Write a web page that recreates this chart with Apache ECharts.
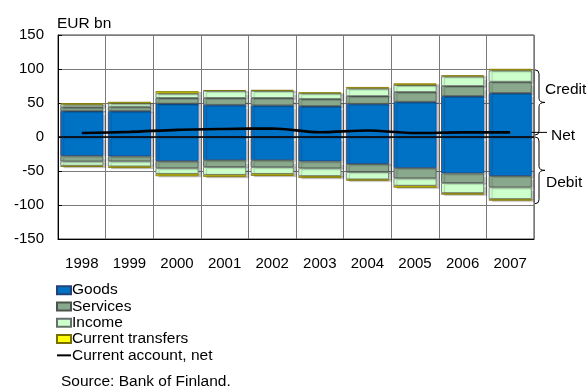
<!DOCTYPE html>
<html>
<head>
<meta charset="utf-8">
<script src="https://cdn.jsdelivr.net/npm/echarts@6/dist/echarts.min.js"></script>
<style>
  html, body { margin: 0; padding: 0; background: #fff; }
  #chart { width: 587px; height: 390px; }
</style>
</head>
<body>
<div id="chart"></div>
<script>
// Finland's current account, EUR bn
const years = ['1998', '1999', '2000', '2001', '2002', '2003', '2004', '2005', '2006', '2007'];

// Credit side (positive)
const goodsCredit     = [38.2, 38.2, 49.0, 47.3, 46.5, 45.5, 48.8, 51.8, 60.2, 64.7];
const servicesCredit  = [5.6, 6.3, 8.5, 10.2, 11.0, 10.6, 11.4, 14.4, 14.8, 16.6];
const incomeCredit    = [3.9, 5.0, 6.5, 10.3, 10.3, 8.1, 11.1, 10.1, 14.0, 16.5];
const transfersCredit = [2.0, 2.2, 3.4, 1.2, 1.5, 1.4, 2.2, 2.6, 1.8, 2.4];

// Debit side (negative)
const goodsDebit     = [-27.7, -28.5, -35.5, -34.1, -34.1, -35.8, -39.8, -45.6, -53.5, -57.4];
const servicesDebit  = [-8.3, -7.3, -10.4, -10.0, -10.3, -10.3, -11.7, -15.2, -14.1, -16.7];
const incomeDebit    = [-6.2, -7.4, -8.3, -11.5, -9.8, -11.3, -10.8, -10.8, -14.8, -17.1];
const transfersDebit = [-1.8, -2.4, -3.4, -3.2, -3.0, -2.9, -2.0, -3.0, -2.5, -2.5];

// Current account, net
const netBalance = [5.9, 7.5, 10.5, 11.8, 12.5, 7.0, 9.5, 5.9, 6.8, 6.8];

const yTicks = { min: -150, max: 150, interval: 50 };

const FONT = '"Liberation Sans", Arial, sans-serif';

const styles = {
  Goods:               { color: '#0072C6', borderColor: '#24427a' },
  Services:            { color: '#8AA88C', borderColor: '#4a554b' },
  Income:              { color: '#CCFFCC', borderColor: '#66706a' },
  'Current transfers': { color: '#FFFF00', borderColor: '#7a7000' }
};

function barSeries(name, data) {
  const s = styles[name];
  return {
    name: name,
    type: 'bar',
    stack: 'ca',
    barWidth: 43,
    data: data,
    itemStyle: {
      color: s.color,
      borderColor: s.borderColor,
      borderWidth: 0.8,
      shadowColor: 'rgba(0,0,0,0.22)',
      shadowOffsetX: 3,
      shadowOffsetY: 1,
      shadowBlur: 1
    },
    emphasis: { disabled: true }
  };
}

const chart = echarts.init(document.getElementById('chart'), null, { renderer: 'canvas' });

const option = {
  animation: false,
  backgroundColor: '#fff',
  textStyle: { fontFamily: FONT, color: '#000' },
  grid: {
    left: 58, right: 53, top: 35, bottom: 151,
    show: true, borderColor: '#404040', borderWidth: 1
  },
  legend: {
    orient: 'vertical',
    left: 56,
    top: 282,
    padding: 0,
    itemGap: 0,
    itemWidth: 14,
    itemHeight: 8,
    selectedMode: false,
    textStyle: { fontFamily: FONT, fontSize: 15.5, color: '#000', lineHeight: 16.3, padding: [0, 0, 0, -4] },
    data: [
      { name: 'Goods', icon: 'rect' },
      { name: 'Services', icon: 'rect' },
      { name: 'Income', icon: 'rect' },
      { name: 'Current transfers', icon: 'rect' },
      { name: 'Current account, net', icon: 'path://M0,0 L14,0 L14,2 L0,2 Z', itemStyle: { color: '#000', borderWidth: 0 } }
    ]
  },
  xAxis: {
    type: 'category',
    data: years,
    boundaryGap: true,
    axisLine: { onZero: false, lineStyle: { color: '#000', width: 1 } },
    axisTick: { show: false },
    splitLine: { show: true, lineStyle: { color: '#7a7a7a', width: 1 } },
    axisLabel: { fontFamily: FONT, fontSize: 15, color: '#000', margin: 17, interval: 0 }
  },
  yAxis: {
    type: 'value',
    min: yTicks.min,
    max: yTicks.max,
    interval: yTicks.interval,
    axisLine: { show: true, lineStyle: { color: '#000', width: 1 } },
    axisTick: { show: true, inside: true, length: 4, lineStyle: { color: '#000' } },
    splitLine: { show: true, lineStyle: { color: '#7a7a7a', width: 1 } },
    axisLabel: { fontFamily: FONT, fontSize: 15, color: '#000', margin: 14 }
  },
  series: [
    barSeries('Goods', goodsCredit),
    barSeries('Goods', goodsDebit),
    barSeries('Services', servicesCredit),
    barSeries('Services', servicesDebit),
    barSeries('Income', incomeCredit),
    barSeries('Income', incomeDebit),
    barSeries('Current transfers', transfersCredit),
    barSeries('Current transfers', transfersDebit),
    {
      name: 'Current account, net',
      type: 'line',
      data: netBalance,
      symbol: 'none',
      smooth: 0.3,
      z: 5,
      lineStyle: { color: '#000', width: 2.6 },
      itemStyle: { color: '#000' },
      markLine: {
        silent: true,
        symbol: 'none',
        label: { show: false },
        lineStyle: { color: '#000', width: 1.5, type: 'solid' },
        data: [{ yAxis: 0 }]
      }
    }
  ]
};

chart.setOption(option);

// Side annotations: braces for credit / debit and the arrow labelled "Net"
const last = years.length - 1;
const sum = (arrs, i) => arrs.reduce((a, arr) => a + arr[i], 0);
const creditTop = sum([goodsCredit, servicesCredit, incomeCredit, transfersCredit], last);
const debitBottom = sum([goodsDebit, servicesDebit, incomeDebit, transfersDebit], last);

const yCredit = chart.convertToPixel({ yAxisIndex: 0 }, creditTop);
const yZero = chart.convertToPixel({ yAxisIndex: 0 }, 0);
const yDebit = chart.convertToPixel({ yAxisIndex: 0 }, debitBottom);
const netEnd = chart.convertToPixel({ xAxisIndex: 0, yAxisIndex: 0 }, [last, netBalance[last]]);

const stroke = { stroke: '#000', lineWidth: 1, fill: 'none' };

// A curly brace "}" built from straight and quadratic pieces
function brace(y0, y1) {
  const xe = 535, xm = 539, xt = 545, r = 4;
  const ym = (y0 + y1) / 2;
  const curve = (x1, y1_, cx, cy, x2, y2) => ({
    type: 'bezierCurve',
    shape: { x1: x1, y1: y1_, cpx1: cx, cpy1: cy, x2: x2, y2: y2 },
    style: stroke
  });
  const seg = (x1, y1_, x2, y2) => ({
    type: 'line',
    shape: { x1: x1, y1: y1_, x2: x2, y2: y2 },
    style: stroke
  });
  return [
    curve(xe, y0, xm, y0, xm, y0 + r),
    seg(xm, y0 + r, xm, ym - r),
    curve(xm, ym - r, xm, ym, xt, ym),
    curve(xt, ym, xm, ym, xm, ym + r),
    seg(xm, ym + r, xm, y1 - r),
    curve(xm, y1 - r, xm, y1, xe, y1)
  ];
}

const label = (x, y, text) => ({
  type: 'text',
  x: x, y: y,
  style: {
    text: text,
    fontFamily: FONT,
    fontSize: 15.5,
    fill: '#000',
    align: 'left',
    verticalAlign: 'middle'
  }
});

const tipX = netEnd[0] + 3;
chart.setOption({
  graphic: [
    label(57, 24, 'EUR bn'),
    label(61, 382, 'Source: Bank of Finland.'),
    ...brace(yCredit + 1, yZero - 2),
    ...brace(yZero, yDebit + 3),
    label(545, 90, 'Credit'),
    label(551, 136, 'Net'),
    label(546, 183, 'Debit'),
    {
      type: 'line',
      shape: { x1: 547, y1: netEnd[1], x2: tipX + 4, y2: netEnd[1] },
      style: { stroke: '#000', lineWidth: 1 }
    },
    {
      type: 'polygon',
      shape: { points: [[tipX, netEnd[1]], [tipX + 6, netEnd[1] - 2.5], [tipX + 6, netEnd[1] + 2.5]] },
      style: { fill: '#000' }
    }
  ]
});
</script>
</body>
</html>
